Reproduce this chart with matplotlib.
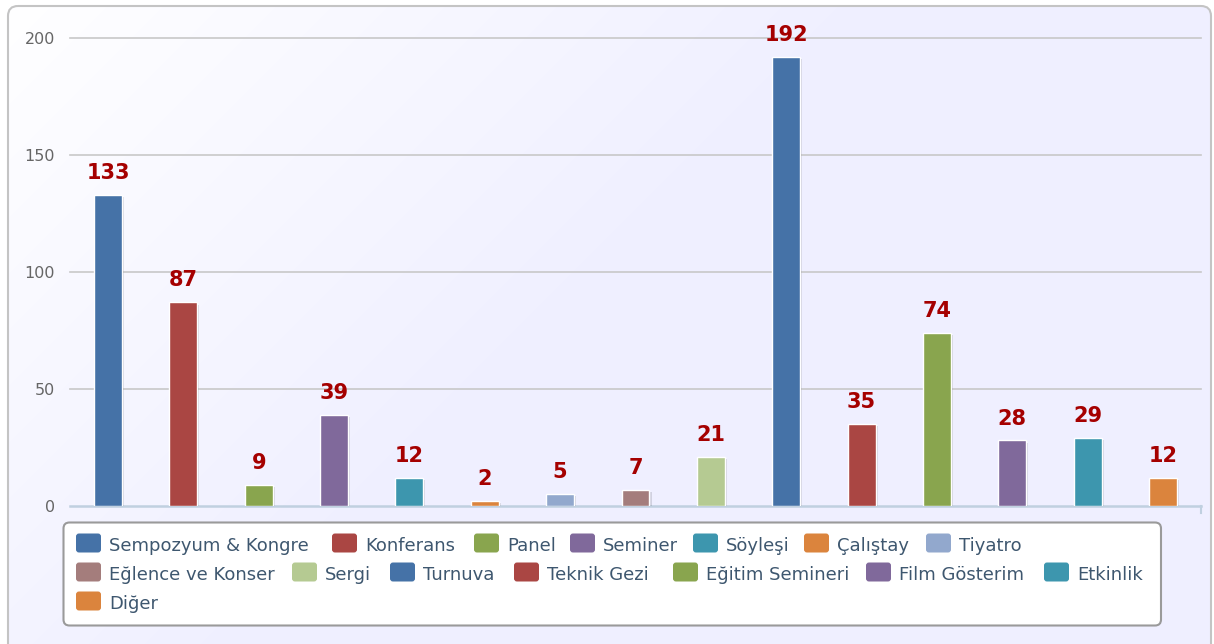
import numpy as np
import matplotlib
matplotlib.use("Agg")
import matplotlib.pyplot as plt
from matplotlib.patches import FancyBboxPatch
import matplotlib.patheffects as pe

# data
categories = ["Sempozyum & Kongre", "Konferans", "Panel", "Seminer", "Söyleşi",
              "Çalıştay", "Tiyatro", "Eğlence ve Konser", "Sergi", "Turnuva",
              "Teknik Gezi", "Eğitim Semineri", "Film Gösterim", "Etkinlik", "Diğer"]
values = [133, 87, 9, 39, 12, 2, 5, 7, 21, 192, 35, 74, 28, 29, 12]
colors = ["#4572A7", "#AA4643", "#89A54E", "#80699B", "#3D96AE",
          "#DB843D", "#92A8CD", "#A47D7C", "#B5CA92", "#4572A7",
          "#AA4643", "#89A54E", "#80699B", "#3D96AE", "#DB843D"]
yticks = [0, 50, 100, 150, 200]

W, H = 1214, 644
fig = plt.figure(figsize=(W / 100, H / 100), dpi=100)
fig.patch.set_facecolor("white")

# background (pixel coordinates)
bg = fig.add_axes([0, 0, 1, 1])
bg.set_xlim(0, W)
bg.set_ylim(H, 0)
bg.axis("off")

frame = FancyBboxPatch((8, 6), 1203, 720, boxstyle="round,pad=0,rounding_size=10",
                       fc="none", ec="#C4C4C4", lw=1.5, zorder=2)
bg.add_patch(frame)
xx, yy = np.meshgrid(np.arange(W), np.arange(H))
t = np.clip((xx + yy) / 900.0, 0, 1)[..., None]
grad = (1 - t) * np.array([1.0, 1.0, 1.0]) + t * np.array([239, 239, 255]) / 255.0
im = bg.imshow(grad, extent=(0, W, H, 0), zorder=1, aspect="auto")
im.set_clip_path(frame)

# legend (Highcharts-like flow layout)
legend_box = FancyBboxPatch((63.5, 522.5), 1097.5, 103, boxstyle="round,pad=0,rounding_size=6",
                            fc="white", ec="#9A9A9A", lw=1.5, zorder=3)
bg.add_patch(legend_box)
legend_pos = [(76, 543), (332, 543), (474, 543), (570, 543), (693, 543), (804, 543), (926, 543),
              (76, 572), (292, 572), (390, 572), (514, 572), (673, 572), (866, 572), (1044, 572),
              (76, 601)]
for name, col, (lx, ly) in zip(categories, colors, legend_pos):
    bg.add_patch(FancyBboxPatch((lx, ly - 9.5), 25, 19, boxstyle="round,pad=0,rounding_size=3",
                                fc=col, ec="none", zorder=4))
    bg.text(lx + 33, ly + 8, name, fontsize=13, color="#3E576F", va="baseline", ha="left",
            family="DejaVu Sans", zorder=5)

# main plot
left, right, top, bottom = 70.3, 1200.7, 38, 506
ax = fig.add_axes([left / W, 1 - bottom / H, (right - left) / W, (bottom - top) / H])
ax.patch.set_alpha(0)
x = np.arange(len(categories))
bars = ax.bar(x, values, width=0.37, color=colors, edgecolor="white", linewidth=1, zorder=3)
for b in bars:
    b.set_path_effects([pe.SimplePatchShadow(offset=(1.5, -1.5), shadow_rgbFace="black", alpha=0.12),
                        pe.Normal()])
for xi, v in zip(x, values):
    ax.annotate(str(v), (xi, v), xytext=(0, 11.5), textcoords="offset points",
                ha="center", va="baseline", fontsize=15, fontweight="bold", color="#A50000",
                zorder=5)

ax.set_xlim(-0.5, len(categories) - 0.5)
ax.set_ylim(0, 200)
ax.set_yticks(yticks)
ax.set_xticks([])
ax.yaxis.grid(True, color="#C8C8C8", linewidth=1.2, zorder=0)
for gl in ax.get_ygridlines():
    gl.set_clip_on(False)
ax.get_ygridlines()[0].set_visible(False)
ax.set_axisbelow(True)
ax.tick_params(axis="y", length=0, pad=11, labelsize=11.5, labelcolor="#666666")
for s in ax.spines.values():
    s.set_visible(False)
ax.axhline(0, color="#C0D0E0", linewidth=1.8, zorder=2, clip_on=False)
ax.plot([len(categories) - 0.5] * 2, [0, -3], color="#C0D0E0", lw=1.5, clip_on=False)

fig.savefig("out.png", dpi=100)
